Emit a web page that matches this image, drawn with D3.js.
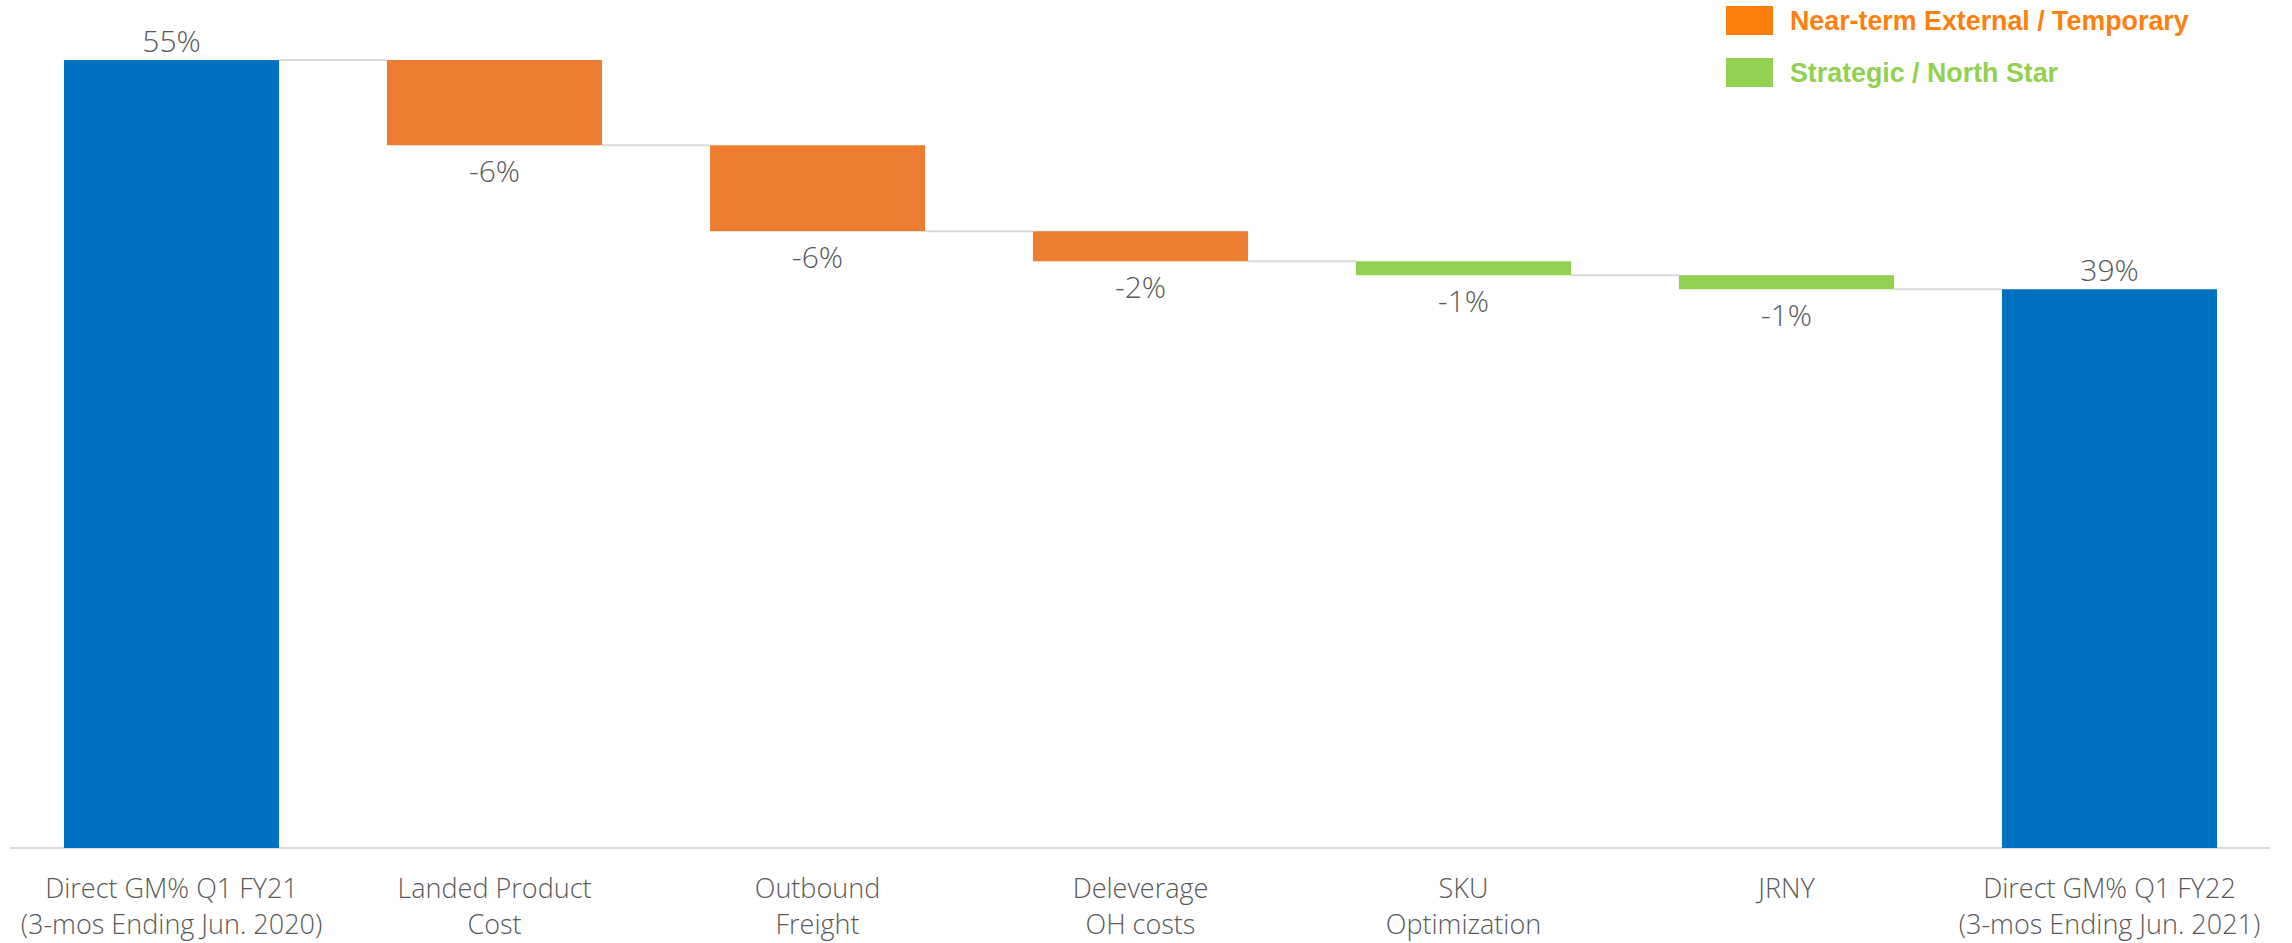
<!DOCTYPE html>
<html>
<head>
<meta charset="utf-8">
<script src="https://cdn.jsdelivr.net/npm/d3@7"></script>
<style>
  html, body { margin: 0; padding: 0; background: #fff; }
  svg { display: block; }
</style>
</head>
<body>
<svg id="chart" width="2292" height="943"></svg>
<script>
// ---- data ----
const categories = [
  ["Direct GM% Q1 FY21", "(3-mos Ending Jun. 2020)"],
  ["Landed Product", "Cost"],
  ["Outbound", "Freight"],
  ["Deleverage", "OH costs"],
  ["SKU", "Optimization"],
  ["JRNY", ""],
  ["Direct GM% Q1 FY22", "(3-mos Ending Jun. 2021)"]
];
const barTypes = ["total", "external", "external", "external", "strategic", "strategic", "total"];
const values = [55, -5.95, -6.0, -2.1, -0.97, -0.98, 39];
const valueLabels = ["55%", "-6%", "-6%", "-2%", "-1%", "-1%", "39%"];
const legendItems = ["Near-term External / Temporary", "Strategic / North Star"];
const legendTypes = ["external", "strategic"];

// ---- styles ----
const barColor = { total: "#0070C0", external: "#ED7D31", strategic: "#92D050" };
const legendColor = { external: "#FF7F0E", strategic: "#92D050" };

// ---- compute waterfall ----
let running = 0;
const bars = values.map((v, i) => {
  let y0, y1;
  if (barTypes[i] === "total") { y0 = 0; y1 = v; running = v; }
  else { y0 = running + v; y1 = running; running = running + v; }
  return { i, key: categories[i].join(" "), y0, y1, type: barTypes[i], label: valueLabels[i], level: running, neg: barTypes[i] !== "total" };
});

const svg = d3.select("#chart");
const x = d3.scaleBand().domain(bars.map(d => d.key)).range([10, 2271]).paddingInner(0.334).paddingOuter(0.167);
const y = d3.scaleLinear().domain([0, 55]).range([848, 60]);

// axis baseline
svg.append("line")
  .attr("x1", 10).attr("x2", 2270)
  .attr("y1", y(0)).attr("y2", y(0))
  .attr("stroke", "#d9d9d9").attr("stroke-width", 2);

// connectors
for (let k = 0; k < bars.length - 1; k++) {
  const lvl = bars[k].type === "total" ? bars[k].y1 : bars[k].y0;
  svg.append("line")
    .attr("x1", x(bars[k].key) + x.bandwidth())
    .attr("x2", x(bars[k + 1].key))
    .attr("y1", y(lvl)).attr("y2", y(lvl))
    .attr("stroke", "#d9d9d9").attr("stroke-width", 2);
}

// bars
svg.selectAll("rect.bar").data(bars).enter().append("rect")
  .attr("class", "bar")
  .attr("x", d => x(d.key))
  .attr("width", x.bandwidth())
  .attr("y", d => y(d.y1))
  .attr("height", d => y(d.y0) - y(d.y1))
  .attr("fill", d => barColor[d.type]);

// value labels
svg.selectAll("text.val").data(bars).enter().append("text")
  .attr("class", "val")
  .attr("x", d => x(d.key) + x.bandwidth() / 2)
  .attr("y", d => d.neg ? y(d.y0) + 37 : y(d.y1) - 8)
  .attr("text-anchor", "middle")
  .attr("font-family", "'Open Sans', sans-serif")
  .attr("font-weight", 300)
  .attr("font-size", 30)
  .attr("fill", "#595959")
  .text(d => d.label);

// category labels
const catG = svg.selectAll("text.cat").data(bars).enter().append("text")
  .attr("class", "cat")
  .attr("x", d => x(d.key) + x.bandwidth() / 2)
  .attr("y", 898)
  .attr("text-anchor", "middle")
  .attr("font-family", "'Open Sans', sans-serif")
  .attr("font-weight", 300)
  .attr("font-size", 27)
  .attr("fill", "#595959");
catG.append("tspan").attr("x", d => x(d.key) + x.bandwidth() / 2).attr("y", 898).text(d => categories[d.i][0]);
catG.append("tspan").attr("x", d => x(d.key) + x.bandwidth() / 2).attr("y", 934).text(d => categories[d.i][1]);

// legend
const leg = svg.selectAll("g.leg").data(legendItems).enter().append("g")
  .attr("class", "leg")
  .attr("transform", (d, i) => `translate(1726, ${6 + i * 52})`);
leg.append("rect").attr("width", 47).attr("height", 29)
  .attr("fill", (d, i) => legendColor[legendTypes[i]]);
leg.append("text").attr("x", 64).attr("y", 24)
  .attr("font-family", "'Liberation Sans', Arial, sans-serif")
  .attr("font-weight", "bold")
  .attr("font-size", 26.8)
  .attr("fill", (d, i) => legendColor[legendTypes[i]])
  .text(d => d);
</script>
</body>
</html>
